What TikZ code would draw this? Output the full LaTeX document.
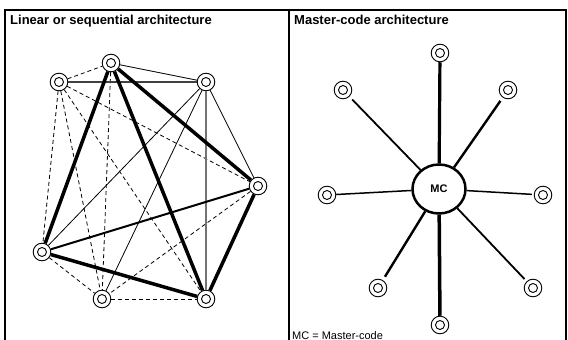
\documentclass[tikz,border=0pt]{standalone}
\usepackage{fontspec}
\setmainfont{Liberation Sans}
\usetikzlibrary{shapes.geometric}
\begin{document}
\begin{tikzpicture}[x=1pt,y=-1pt,
  ring/.style={circle, draw, line width=0.9pt, fill=white, minimum size=17.6pt, inner sep=0pt,
    path picture={\draw[line width=0.9pt] (path picture bounding box.center) circle (4.5pt);}},
  thinln/.style={line width=0.8pt},
  grayln/.style={line width=1.2pt, black!55},
  darkln/.style={line width=1.1pt, black!75},
  dashln/.style={line width=0.8pt, dash pattern=on 4pt off 3pt},
  thickln/.style={line width=3.5pt},
  medln/.style={line width=2pt},
  title/.style={font=\bfseries\fontsize{13}{15}\selectfont, anchor=base west, inner sep=0pt},
  frameln/.style={line width=1.1pt}
]
\useasboundingbox (0,0) rectangle (568,340);
% frame
\draw[frameln] (5,350) -- (5,10) -- (566,10) -- (566,350);
\draw[frameln] (289,10) -- (289,350);
\node[title] (t1) at (10,24) {Linear or sequential architecture};
\node[title] (t2) at (294,24) {Master-code architecture};

% left panel nodes
\node[ring] (A) at (59,82) {};
\node[ring] (B) at (111,63) {};
\node[ring] (C) at (206,82) {};
\node[ring] (D) at (258,186) {};
\node[ring] (E) at (206,299) {};
\node[ring] (F) at (102,299) {};
\node[ring] (G) at (42,252) {};

% dashed
\draw[dashln] (A) -- (B);
\draw[dashln] (A) -- (G);
\draw[dashln] (A) -- (F);
\draw[dashln] (A) -- (E);
\draw[dashln] (A) -- (D);
\draw[dashln] (B) -- (F);
\draw[dashln] (D) -- (F);
\draw[dashln] (G) -- (F);
\draw[dashln] (F) -- (E);
% thin solid
\draw[darkln] (A) -- (C);
\draw[thinln] (B) -- (C);
\draw[thinln] (C) -- (G);
\draw[thinln] (C) -- (F);
\draw[thinln] (C) -- (D);
\draw[grayln] (C) -- (E);
% medium
\draw[medln] (D) -- (G);
% thick
\draw[thickln] (B) -- (G);
\draw[thickln] (B) -- (E);
\draw[thickln] (B) -- (D);
\draw[thickln] (D) -- (E);
\draw[thickln] (G) -- (E);

% right panel
\node[ellipse, draw, line width=2.5pt, minimum width=53pt, minimum height=49pt, inner sep=0pt,
  font=\bfseries\fontsize{11}{12}\selectfont] (MC) at (439,189) {MC};
\node[ring] (N) at (440,53) {};
\node[ring] (NW) at (343,90) {};
\node[ring] (NE) at (508,90) {};
\node[ring] (W) at (327,195) {};
\node[ring] (Ea) at (543,195) {};
\node[ring] (SW) at (378,288) {};
\node[ring] (SE) at (533,288) {};
\node[ring] (S) at (440,325) {};

\draw[line width=3.2pt] (MC) -- (N);
\draw[line width=1.8pt, shorten >=4pt] (MC) -- (NW);
\draw[line width=2.4pt, shorten >=4pt] (MC) -- (NE);
\draw[line width=1.5pt] (MC) -- (W);
\draw[line width=1.5pt, shorten >=2pt] (MC) -- (Ea);
\draw[line width=2.4pt, shorten >=4pt] (MC) -- (SW);
\draw[line width=1.8pt, shorten >=3pt] (MC) -- (SE);
\draw[line width=3.5pt] (MC) -- (S);

\node[anchor=base west, inner sep=0pt, font=\fontsize{11}{12}\selectfont] (legend) at (292,339) {MC = Master-code};
\end{tikzpicture}
\end{document}
